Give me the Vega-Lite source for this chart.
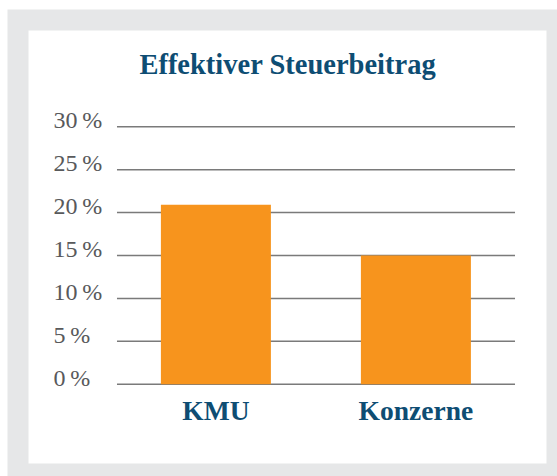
{
  "$schema": "https://vega.github.io/schema/vega-lite/v6.json",
  "width": 539,
  "height": 454,
  "autosize": {"type": "none"},
  "padding": {"left": 18, "top": 20, "right": 0, "bottom": 2},
  "background": "white",
  "view": {"fill": "white", "stroke": "#e6e7e8", "strokeWidth": 21},
  "title": {
    "text": "Effektiver Steuerbeitrag",
    "font": "Liberation Serif",
    "fontSize": 28.5,
    "fontWeight": "bold",
    "color": "#0e4d73",
    "anchor": "middle",
    "frame": "group",
    "baseline": "alphabetic",
    "offset": -82
  },
  "datasets": {
    "bars": [
      {"group": "KMU", "value": 20.9},
      {"group": "Konzerne", "value": 15.0}
    ],
    "grid": [
      {"tick": 0}, {"tick": 5}, {"tick": 10}, {"tick": 15},
      {"tick": 20}, {"tick": 25}, {"tick": 30}
    ]
  },
  "layer": [
    {
      "data": {"name": "grid"},
      "mark": {"type": "rule", "color": "#7a7a7a", "strokeWidth": 1.5},
      "encoding": {
        "y": {
          "field": "tick",
          "type": "quantitative",
          "scale": {"domain": [-10.45, 42.43], "nice": false, "zero": false},
          "axis": {
            "values": [0, 5, 10, 15, 20, 25, 30],
            "title": null,
            "grid": false,
            "domain": false,
            "ticks": false,
            "tickSize": 0,
            "labelAlign": "left",
            "labelBaseline": "alphabetic",
            "labelPadding": -35,
            "labelOffset": 1,
            "labelFont": "Liberation Serif",
            "labelFontSize": 24,
            "labelColor": "#58595b",
            "labelExpr": "datum.value + '\u2009%'"
          }
        },
        "x": {
          "datum": 0,
          "type": "quantitative",
          "scale": {"domain": [-0.2487, 1.1055], "nice": false, "zero": false},
          "axis": null
        },
        "x2": {"datum": 1}
      }
    },
    {
      "data": {"name": "bars"},
      "mark": {"type": "bar", "color": "#f7941d"},
      "encoding": {
        "x": {
          "field": "group",
          "type": "nominal",
          "sort": null,
          "scale": {"paddingInner": 0.45, "paddingOuter": 0.5725, "align": 0.624},
          "axis": {
            "title": null,
            "domain": false,
            "ticks": false,
            "tickSize": 0,
            "grid": false,
            "offset": -90,
            "labelAngle": 0,
            "labelBaseline": "alphabetic",
            "labelPadding": 35,
            "labelFont": "Liberation Serif",
            "labelFontSize": 27.5,
            "labelFontWeight": "bold",
            "labelColor": "#0e4d73"
          }
        },
        "y": {"field": "value", "type": "quantitative"}
      }
    }
  ],
  "resolve": {"scale": {"x": "independent"}}
}
